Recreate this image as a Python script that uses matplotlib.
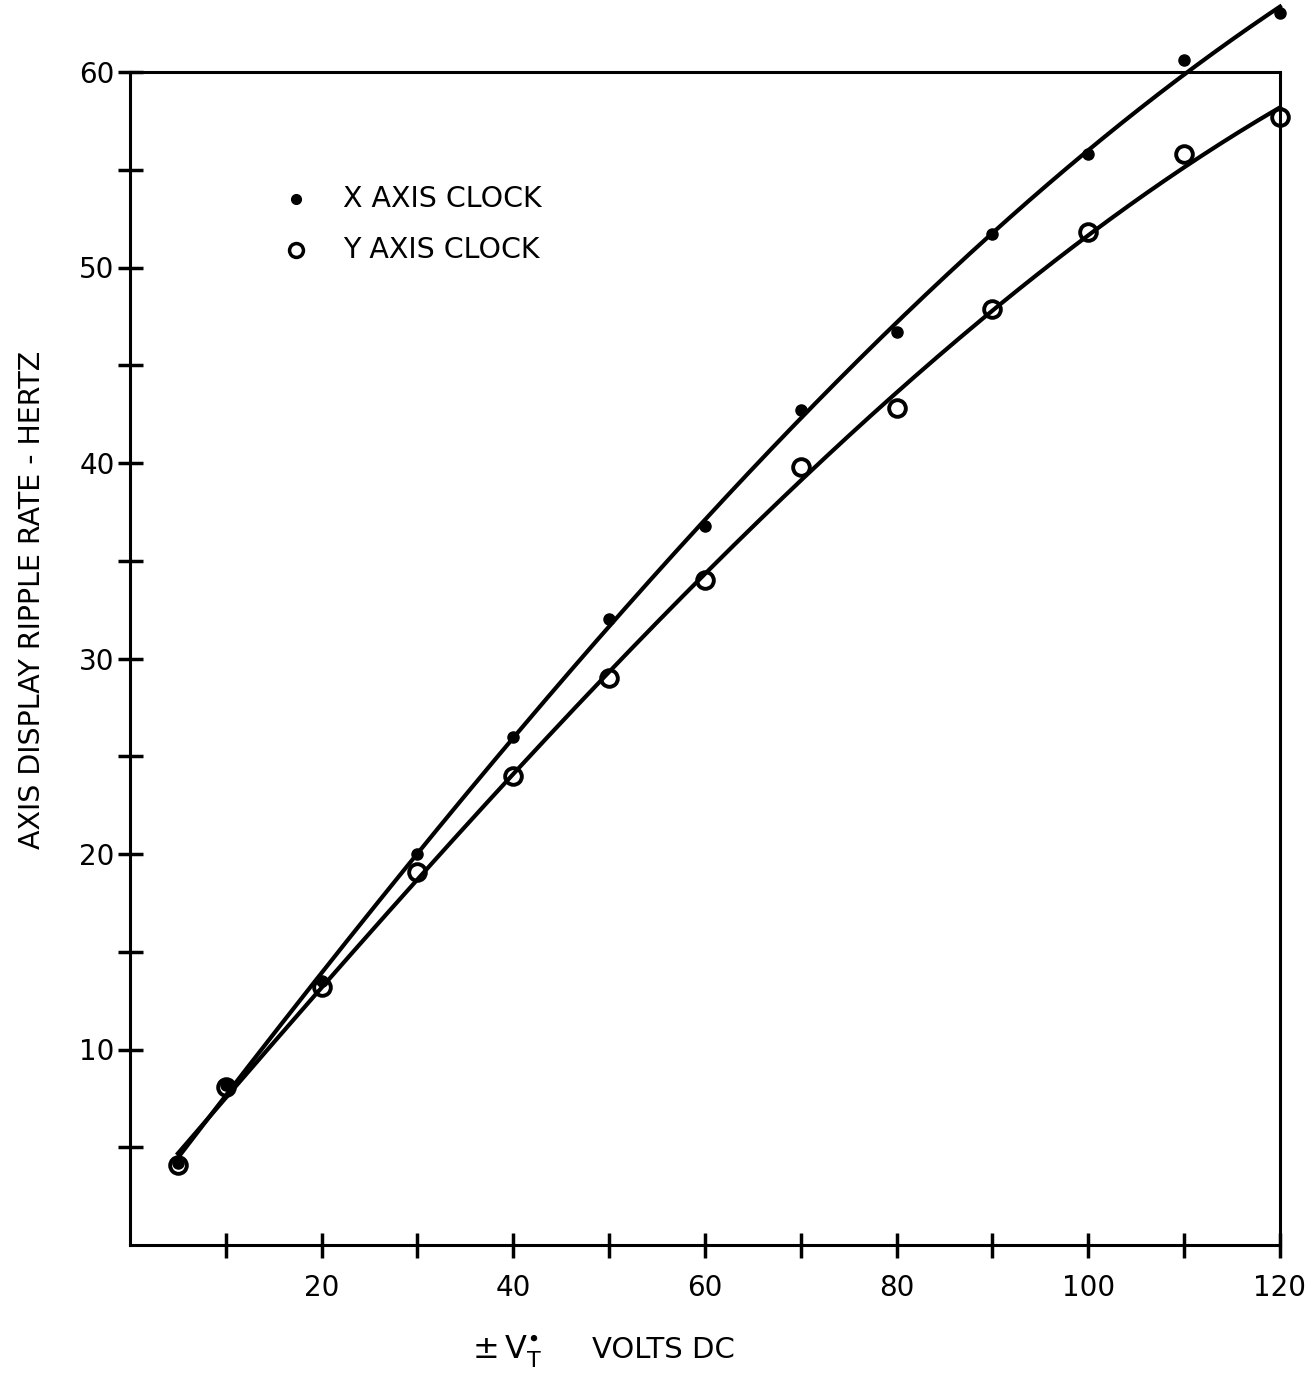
import numpy as np
import matplotlib
matplotlib.use("Agg")
import matplotlib.pyplot as plt

# Data
volts = [5, 10, 20, 30, 40, 50, 60, 70, 80, 90, 100, 110, 120]
x_clock = [4.2, 8.2, 13.5, 20.0, 26.0, 32.0, 36.8, 42.7, 46.7, 51.7, 55.8, 60.6, 63.0]
y_clock = [4.1, 8.1, 13.2, 19.1, 24.0, 29.0, 34.0, 39.8, 42.8, 47.9, 51.8, 55.8, 57.7]

x_ticks = list(range(10, 121, 10))
x_labels = ["" if v % 20 else str(v) for v in x_ticks]
y_ticks = list(range(5, 61, 5))
y_labels = ["" if v % 10 else str(v) for v in y_ticks]

plt.rcParams['font.family'] = ['DejaVu Sans']

fig = plt.figure(figsize=(13.16, 13.8), dpi=100)
ax = fig.add_axes([130/1316, 1 - 1245/1380, (1280-130)/1316, (1245-72)/1380])
ax.set_xlim(0, 120)
ax.set_ylim(0, 60)

# Smooth fitted curves
xs = np.linspace(min(volts), max(volts), 300)
for series in (x_clock, y_clock):
    coef = np.polyfit(volts, series, 3)
    ax.plot(xs, np.polyval(coef, xs), color='black', lw=3.0, clip_on=False, zorder=3)

ax.plot(volts, x_clock, 'o', color='black', ms=8, clip_on=False, zorder=5)
ax.plot(volts, y_clock, 'o', mfc='none', mec='black', mew=2.8, ms=12, clip_on=False, zorder=4)

for sp in ax.spines.values():
    sp.set_linewidth(2.2)

ax.set_xticks(x_ticks)
ax.set_xticklabels(x_labels, fontsize=20, fontweight='medium')
ax.set_yticks(y_ticks)
ax.set_yticklabels(y_labels, fontsize=20, fontweight='medium')
ax.tick_params(axis='both', direction='inout', length=18, width=2.5)
ax.tick_params(axis='x', pad=12)
ax.tick_params(axis='y', pad=2)

# Legend (drawn manually as in original)
ax.plot([17.3], [53.5], 'o', color='black', ms=7, clip_on=False)
ax.plot([17.3], [50.9], 'o', mfc='white', mec='black', mew=2.5, ms=10, clip_on=False)
ax.text(22.2, 53.5, "X AXIS CLOCK", fontsize=20.5, va='center', ha='left')
ax.text(22.2, 50.9, "Y AXIS CLOCK", fontsize=20.5, va='center', ha='left')

fig.text(32/1316, 1 - 600/1380, "AXIS DISPLAY RIPPLE RATE - HERTZ", rotation=90,
         fontsize=20.5, ha='center', va='center')
fig.text(507/1316, 1 - 1352/1380, r"$\pm\,\mathregular{V}_{\mathregular{T}}^{\bullet}$",
         fontsize=23, ha='center', va='center')
fig.text(592/1316, 1 - 1350/1380, "VOLTS DC", fontsize=21, ha='left', va='center')

fig.savefig("out.png", dpi=100)
